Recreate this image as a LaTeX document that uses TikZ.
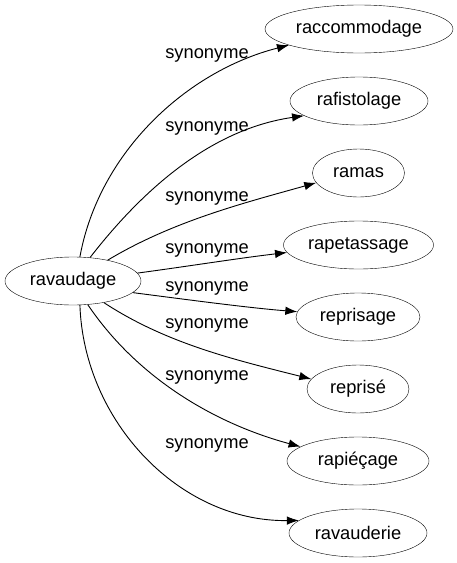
\documentclass[tikz,border=0pt]{standalone}
\usepackage{fontspec}
\setmainfont{Liberation Sans}
\usetikzlibrary{shapes.geometric,arrows.meta}
\begin{document}
\begin{tikzpicture}[x=1pt,y=-1pt,
  word/.style={draw,ellipse,inner sep=0pt,minimum height=48pt,font=\fontsize{18.3}{22}\selectfont},
  rel/.style={-{Latex[length=12pt,width=8.5pt]},line width=0.9pt},
  lab/.style={font=\fontsize{18.3}{22}\selectfont,inner sep=0pt}]
\useasboundingbox (0,0) rectangle (457,563);
\node[word,minimum width=136pt] (src) at (73,281) {ravaudage};
\node[word,minimum width=188pt] (t1) at (359,29) {raccommodage};
\node[word,minimum width=138pt] (t2) at (359,101) {rafistolage};
\node[word,minimum width=92pt] (t3) at (358.5,173) {ramas};
\node[word,minimum width=150pt] (t4) at (358.5,245) {rapetassage};
\node[word,minimum width=124pt] (t5) at (358,317) {reprisage};
\node[word,minimum width=102pt] (t6) at (358,389) {reprisé};
\node[word,minimum width=142pt] (t7) at (358,461) {rapiéçage};
\node[word,minimum width=138pt] (t8) at (358,533) {ravauderie};
\draw[rel] (src.74) .. controls (99,152) and (187,71) .. (t1.193);
\draw[rel] (src.54) .. controls (144,188) and (212,129) .. (t2.195);
\draw[rel] (src.31) .. controls (173,221) and (244,203) .. (t3.193.5);
\draw[rel] (src.7) .. controls (190,266) and (240,258) .. (t4.186.4);
\draw[rel] (src.349) .. controls (190,300) and (250,308) .. (t5.175);
\draw[rel] (src.325.5) .. controls (167,344) and (236,360) .. (t6.168);
\draw[rel] (src.302) .. controls (138,379) and (216,424) .. (t7.166.4);
\draw[rel] (src.286) .. controls (84,422) and (180,522) .. (t8.168);
\node[lab] (l1) at (207,55) {synonyme};
\node[lab] (l2) at (207,128) {synonyme};
\node[lab] (l3) at (207,198) {synonyme};
\node[lab] (l4) at (207,250) {synonyme};
\node[lab] (l5) at (207,288) {synonyme};
\node[lab] (l6) at (207,325) {synonyme};
\node[lab] (l7) at (207,377) {synonyme};
\node[lab] (l8) at (207,445) {synonyme};
\end{tikzpicture}
\end{document}
